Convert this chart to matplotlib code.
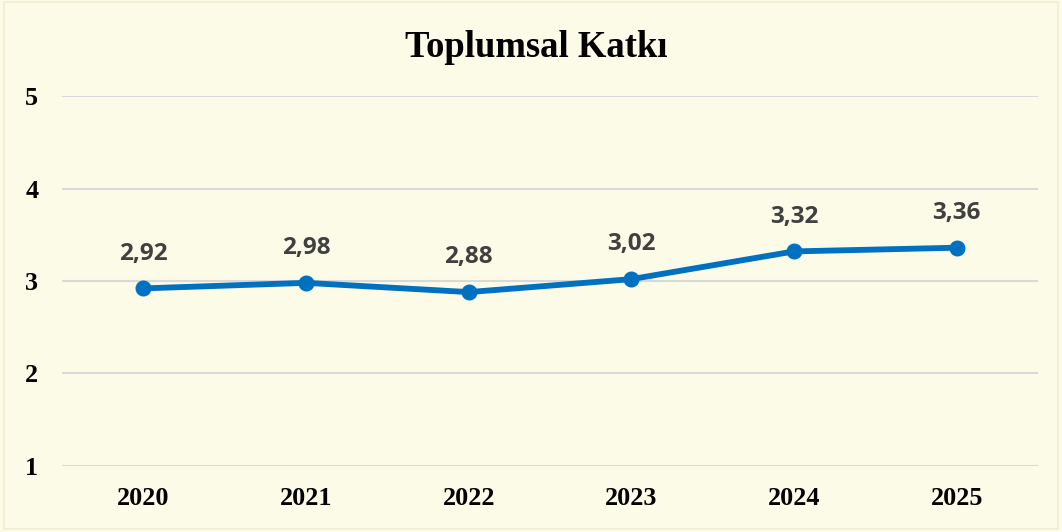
import matplotlib
matplotlib.use("Agg")
import matplotlib.pyplot as plt
from matplotlib.patches import Rectangle

years = ["2020", "2021", "2022", "2023", "2024", "2025"]
scores = [2.92, 2.98, 2.88, 3.02, 3.32, 3.36]
value_labels = ["2,92", "2,98", "2,88", "3,02", "3,32", "3,36"]
y_ticks = [1, 2, 3, 4, 5]

bg = "#FCFBE8"
line_color = "#0070C0"

fig = plt.figure(figsize=(10.62, 5.32), dpi=100, facecolor=bg)
fig.patches.append(Rectangle((0.004, 0.006), 0.992, 0.99, transform=fig.transFigure,
                             fill=False, edgecolor="#F3F0CF", linewidth=1.5))
ax = fig.add_axes([0.0584, 0.1241, 0.9190, 0.6954])
ax.set_facecolor(bg)

x = list(range(len(years)))
ax.plot(x, scores, color=line_color, linewidth=4.2, marker="o", markersize=10.5,
        solid_capstyle="round", zorder=3)

for xi, v, lab in zip(x, scores, value_labels):
    ax.annotate(lab, (xi, v), xytext=(0, 25), textcoords="offset points",
                ha="center", va="center", fontsize=17.5, fontweight="bold",
                family="Open Sans", color="#404040")

ax.set_xlim(-0.5, len(years) - 0.5)
ax.set_ylim(1, 5)
ax.set_yticks(y_ticks)
ax.set_xticks(x)
ax.set_xticklabels(years)
ax.grid(axis="y", color="#D9D9D9", linewidth=1.5)
ax.set_axisbelow(True)
for s in ax.spines.values():
    s.set_visible(False)
ax.tick_params(length=0, labelsize=18.8)
ax.tick_params(axis="x", pad=15)
ax.tick_params(axis="y", pad=17)
for t in ax.get_xticklabels() + ax.get_yticklabels():
    t.set_family("Liberation Serif")
    t.set_fontweight("bold")
    t.set_color("black")

fig.text(0.505, 0.91, "Toplumsal Katkı", ha="center", va="center",
         fontsize=26.4, fontweight="bold", family="Liberation Serif")

fig.savefig("out.png", dpi=100, facecolor=bg)
